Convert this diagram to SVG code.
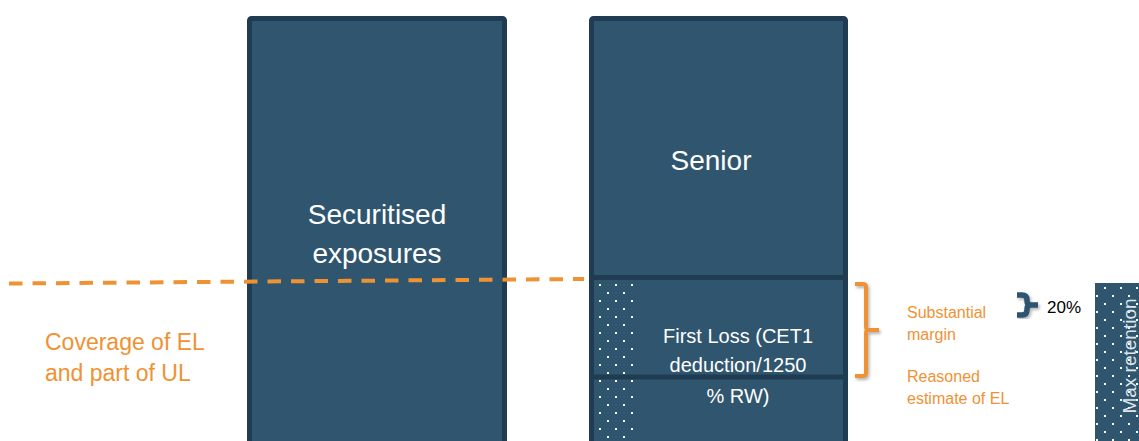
<svg xmlns="http://www.w3.org/2000/svg" width="1139" height="441" viewBox="0 0 1139 441">
<style>
.box{fill:#30566f;stroke:#1f3c53;stroke-width:5}
.div{stroke:#1f3c53;stroke-width:5}
.wt{fill:#ffffff;font-family:"Liberation Sans",Arial,sans-serif;text-anchor:middle}
.ot{fill:#ef9234;font-family:"Liberation Sans",Arial,sans-serif}
.br{fill:none;stroke:#ef9234;stroke-width:4;stroke-linecap:butt}
</style>
<defs>
<pattern id="dots" x="592" y="285" width="16" height="16" patternUnits="userSpaceOnUse">
<rect x="7" y="-1" width="2" height="2" fill="#ffffff"/>
<rect x="-1" y="7" width="2" height="2" fill="#ffffff"/>
<rect x="15" y="7" width="2" height="2" fill="#ffffff"/>
<rect x="7" y="15" width="2" height="2" fill="#ffffff"/>
</pattern>
<pattern id="dots2" x="1097" y="288" width="16" height="16" patternUnits="userSpaceOnUse">
<rect x="7" y="-1" width="2" height="2" fill="#ffffff"/>
<rect x="-1" y="7" width="2" height="2" fill="#ffffff"/>
<rect x="15" y="7" width="2" height="2" fill="#ffffff"/>
<rect x="7" y="15" width="2" height="2" fill="#ffffff"/>
</pattern>
<filter id="sh" x="-50%" y="-20%" width="200%" height="140%">
<feDropShadow dx="1.5" dy="2" stdDeviation="1.5" flood-color="#000" flood-opacity="0.3"/>
</filter>
</defs>
<g id="securitised-exposures">
<rect class="box" x="249.5" y="18.5" width="255" height="440" rx="2"/>
<text class="wt" font-size="28"><tspan x="377" y="224">Securitised</tspan><tspan x="377" y="263">exposures</tspan></text>
</g>
<g id="tranches">
<rect class="box" x="591.5" y="18.5" width="254" height="440" rx="2"/>
<rect x="594" y="280" width="40" height="161" fill="url(#dots)"/>
<line class="div" x1="592" y1="277.5" x2="846" y2="277.5"/>
<line class="div" x1="592" y1="377" x2="846" y2="377"/>
</g>
<g id="senior">
<text class="wt" font-size="28" x="711" y="170">Senior</text>
</g>
<g id="first-loss">
<text class="wt" font-size="20"><tspan x="738" y="343">First Loss (CET1</tspan><tspan x="738" y="372">deduction/1250</tspan><tspan x="738" y="403">% RW)</tspan></text>
</g>
<g id="max-retention">
<rect x="1095" y="283" width="50" height="160" fill="#30566f"/>
<rect x="1095" y="283" width="50" height="160" fill="url(#dots2)"/>
<text transform="translate(1136,356) rotate(-90)" x="0" y="0" fill="#dfe6ec" font-family="Liberation Sans,Arial,sans-serif" font-size="19" text-anchor="middle">Max retention</text>
</g>
<g id="coverage-label">
<text class="ot" font-size="23"><tspan x="45" y="350">Coverage of EL</tspan><tspan x="45" y="381">and part of UL</tspan></text>
</g>
<g id="margin-label">
<text class="ot" font-size="16"><tspan x="907" y="318">Substantial</tspan><tspan x="907" y="340">margin</tspan></text>
</g>
<g id="el-estimate-label">
<text class="ot" font-size="16"><tspan x="907" y="382">Reasoned</tspan><tspan x="907" y="404">estimate of EL</tspan></text>
</g>
<g id="pct-label">
<text x="1047" y="313" fill="#000000" font-family="Liberation Sans,Arial,sans-serif" font-size="17">20%</text>
</g>
<g id="connectors">
<line x1="9" y1="283.5" x2="584" y2="279" stroke="#ef9234" stroke-width="4" stroke-dasharray="13.5 10"/>
<path class="br" filter="url(#sh)" d="M855,284 H863 Q866,284 866,287 V327 Q866,330 869,330 H879 M869,330 Q866,330 866,333 V373 Q866,376 863,376 H855"/>
<path fill="none" stroke="#2e5470" stroke-width="5.5" filter="url(#sh)" d="M1017,295 H1022 Q1027,295 1027,300 V301 Q1027,305 1031,305 H1038 M1031,305 Q1027,305 1027,309 V310 Q1027,315 1022,315 H1017"/>
</g>
</svg>
